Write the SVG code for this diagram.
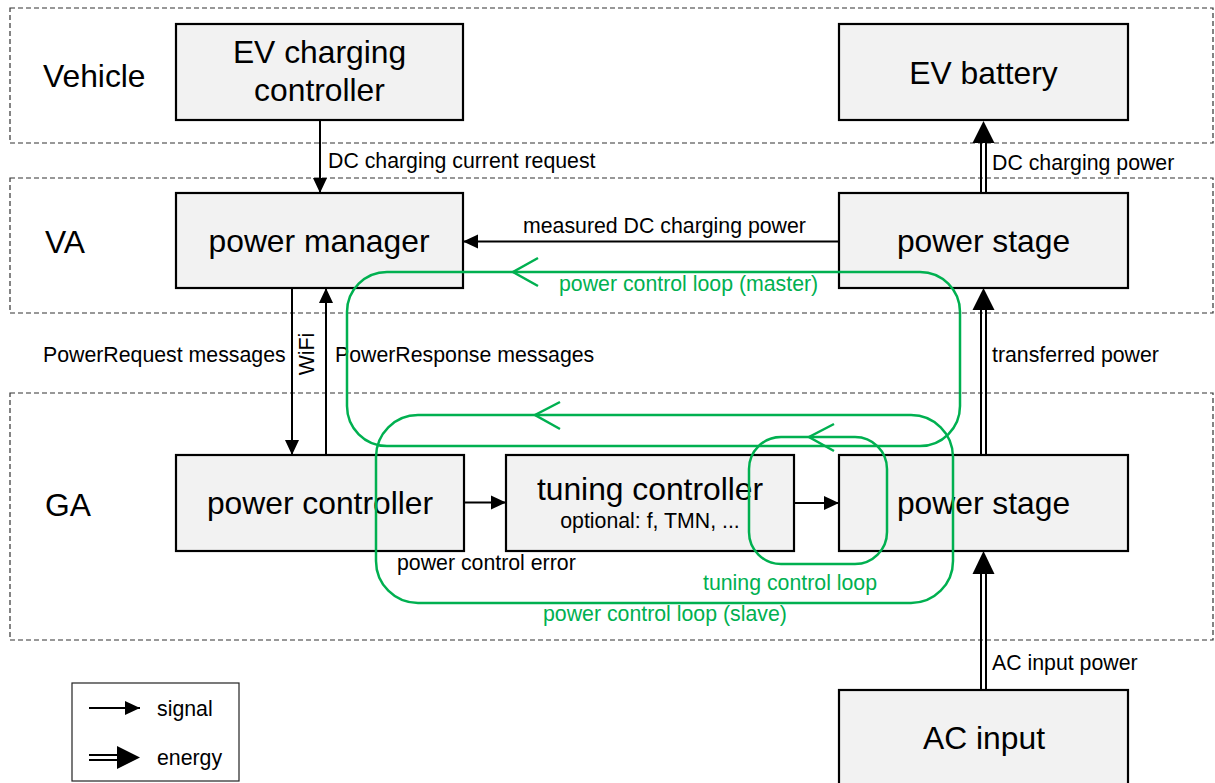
<svg xmlns="http://www.w3.org/2000/svg" width="1215" height="783" viewBox="0 0 1215 783">
<style>
.zone{fill:none;stroke:#333;stroke-width:1.2;stroke-dasharray:5 3}
.node rect{fill:#f2f2f2;stroke:#000;stroke-width:2.2}
.big{font-family:"Liberation Sans",Arial,sans-serif;font-size:31.8px;fill:#000}
.sm{font-family:"Liberation Sans",Arial,sans-serif;font-size:21.3px;fill:#000}
.gt{font-family:"Liberation Sans",Arial,sans-serif;font-size:21.3px;fill:#00b050}
.sig{fill:none;stroke:#000;stroke-width:2}
.en{fill:none;stroke:#000;stroke-width:2}
.loop{fill:none;stroke:#00b050;stroke-width:2.5}
.head{fill:#000}
</style>
<defs>
<marker id="ah" markerUnits="userSpaceOnUse" markerWidth="15" markerHeight="15" refX="15" refY="7" orient="auto" viewBox="0 0 15 14">
<path d="M0,0 L15,7 L0,14 z" fill="#000"/>
</marker>
</defs>
<rect width="1215" height="783" fill="#fff"/>
<g id="zones">
<rect class="zone" x="10" y="8" width="1203" height="135"/>
<rect class="zone" x="10" y="178" width="1203" height="135"/>
<rect class="zone" x="10" y="393" width="1203" height="247"/>
<text class="big" x="43" y="87">Vehicle</text>
<text class="big" x="45" y="253">VA</text>
<text class="big" x="45" y="516">GA</text>
</g>
<g id="ev-charging-controller" class="node">
<rect x="176" y="24" width="287" height="96"/>
<text class="big" x="319.5" y="63" text-anchor="middle">EV charging</text>
<text class="big" x="319.5" y="101" text-anchor="middle">controller</text>
</g>
<g id="ev-battery" class="node">
<rect x="839" y="24" width="289" height="96"/>
<text class="big" x="983.5" y="84" text-anchor="middle">EV battery</text>
</g>
<g id="power-manager" class="node">
<rect x="176" y="193" width="287" height="95"/>
<text class="big" x="319" y="252" text-anchor="middle">power manager</text>
</g>
<g id="power-stage-va" class="node">
<rect x="839" y="193" width="289" height="95"/>
<text class="big" x="983.5" y="252" text-anchor="middle">power stage</text>
</g>
<g id="power-controller" class="node">
<rect x="176" y="455" width="288" height="96"/>
<text class="big" x="320" y="514" text-anchor="middle">power controller</text>
</g>
<g id="tuning-controller" class="node">
<rect x="506" y="455" width="288" height="96"/>
<text class="big" x="650" y="500" text-anchor="middle">tuning controller</text>
<text class="sm" x="650" y="528" text-anchor="middle">optional: f, TMN, ...</text>
</g>
<g id="power-stage-ga" class="node">
<rect x="839" y="455" width="289" height="96"/>
<text class="big" x="983.5" y="514" text-anchor="middle">power stage</text>
</g>
<g id="ac-input" class="node">
<rect x="839" y="690" width="289" height="100"/>
<text class="big" x="984" y="749" text-anchor="middle">AC input</text>
</g>
<g id="connectors">
<line class="sig" x1="320" y1="120" x2="320" y2="193" marker-end="url(#ah)"/>
<text class="sm" x="328" y="168">DC charging current request</text>
<line class="sig" x1="839" y1="241.5" x2="463" y2="241.5" marker-end="url(#ah)"/>
<text class="sm" x="523" y="233">measured DC charging power</text>
<line class="sig" x1="292" y1="288" x2="292" y2="455" marker-end="url(#ah)"/>
<line class="sig" x1="326" y1="455" x2="326" y2="288" marker-end="url(#ah)"/>
<text class="sm" x="43" y="362">PowerRequest messages</text>
<text class="sm" x="335" y="362">PowerResponse messages</text>
<text class="sm" transform="translate(314,354) rotate(-90)" text-anchor="middle">WiFi</text>
<line class="sig" x1="464" y1="502.5" x2="506" y2="502.5" marker-end="url(#ah)"/>
<text class="sm" x="397" y="570">power control error</text>
<line class="sig" x1="794" y1="503" x2="839" y2="503" marker-end="url(#ah)"/>
<line class="en" x1="981" y1="193" x2="981" y2="140"/>
<line class="en" x1="986" y1="193" x2="986" y2="140"/>
<polygon class="head" points="983.5,121 972.5,143 994.5,143"/>
<text class="sm" x="992" y="170">DC charging power</text>
<line class="en" x1="981" y1="455" x2="981" y2="308"/>
<line class="en" x1="986" y1="455" x2="986" y2="308"/>
<polygon class="head" points="983.5,288 972.5,310 994.5,310"/>
<text class="sm" x="992" y="362">transferred power</text>
<line class="en" x1="981" y1="690" x2="981" y2="572"/>
<line class="en" x1="986" y1="690" x2="986" y2="572"/>
<polygon class="head" points="983.5,551 972.5,574 994.5,574"/>
<text class="sm" x="992" y="670">AC input power</text>
</g>
<g id="loops">
<rect class="loop" x="347" y="272" width="613" height="174" rx="40" ry="40"/>
<polyline class="loop" points="538,258 513,272 538,286"/>
<text class="gt" x="559" y="291">power control loop (master)</text>
<rect class="loop" x="376" y="415" width="577" height="188" rx="42" ry="42"/>
<polyline class="loop" points="560,402 535,415 560,429"/>
<text class="gt" x="543" y="621">power control loop (slave)</text>
<rect class="loop" x="749" y="437" width="138" height="127" rx="32" ry="32"/>
<polyline class="loop" points="834,424 809,437 834,451"/>
<text class="gt" x="703" y="590">tuning control loop</text>
</g>
<g id="legend">
<rect x="72" y="683" width="167" height="98" fill="#fff" stroke="#222" stroke-width="1.2"/>
<line class="sig" x1="89" y1="708" x2="140" y2="708" marker-end="url(#ah)"/>
<text class="sm" x="157" y="716">signal</text>
<line class="en" x1="89" y1="755" x2="120" y2="755"/>
<line class="en" x1="89" y1="760" x2="120" y2="760"/>
<polygon class="head" points="140,757.5 117,746 117,769"/>
<text class="sm" x="157" y="765">energy</text>
</g>
</svg>
